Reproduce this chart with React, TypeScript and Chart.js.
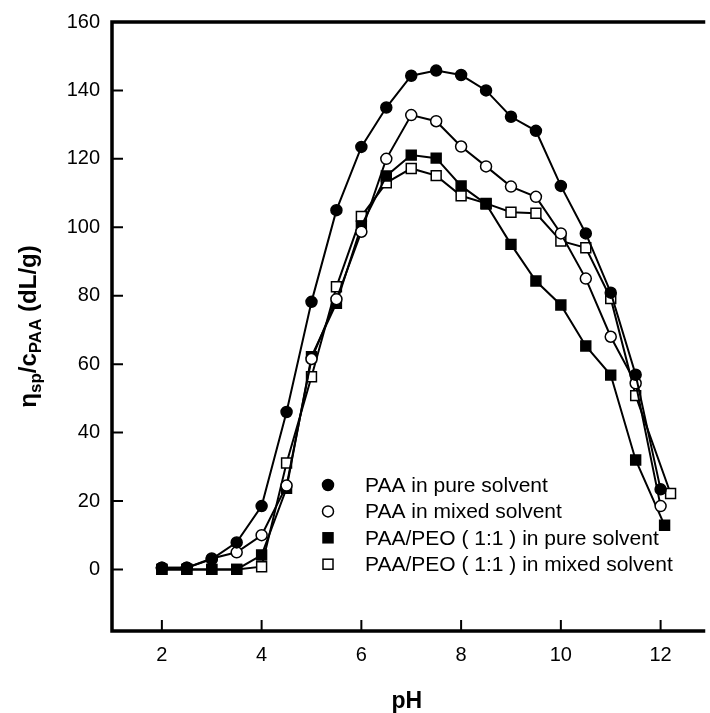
import React, { useEffect, useRef } from "react";
import { Chart, registerables } from "chart.js";

Chart.register(...registerables);

const phA = [2, 2.5, 3, 3.5, 4, 4.5, 5, 5.5, 6, 6.5, 7, 7.5, 8, 8.5, 9, 9.5, 10, 10.5, 11, 11.5, 12];
const paaPure = [0.5, 0.5, 3, 7.9, 18.5, 46, 78.2, 105, 123.5, 135, 144.3, 145.8, 144.5, 140, 132.3, 128.2, 112.1, 98.2, 80.9, 56.9, 23.4];
const paaMixed = [0.5, 0.5, 3.2, 5.0, 10.0, 24.5, 61.5, 79, 98.7, 120, 132.8, 131, 123.6, 117.8, 111.9, 108.9, 98.2, 85.0, 68.0, 54.4, 18.5];

const phB = [2, 2.5, 3, 3.5, 4, 4.5, 5, 5.5, 6, 6.5, 7, 7.5, 8, 8.5, 9, 9.5, 10, 10.5, 11, 11.5, 12.08];
const peoPure = [0, 0, 0, 0, 4.2, 23.7, 62.2, 77.8, 100.4, 115, 121.1, 120.2, 112.1, 106.8, 95.0, 84.3, 77.3, 65.3, 56.8, 32.0, 12.9];

const phC = [2, 2.5, 3, 3.5, 4, 4.5, 5, 5.5, 6, 6.5, 7, 7.5, 8, 8.5, 9, 9.5, 10, 10.5, 11, 11.5, 12.2];
const peoMixed = [0, 0, 0, 0, 0.8, 31.1, 56.3, 82.6, 103.2, 113.0, 117.2, 115.1, 109.2, 107.0, 104.4, 104.1, 96.0, 94.0, 79.2, 50.8, 22.2];

const seriesLabels = [
  "PAA in pure solvent",
  "PAA in mixed solvent",
  "PAA/PEO ( 1:1 ) in pure solvent",
  "PAA/PEO ( 1:1 ) in mixed solvent",
];

const xTicks = [2, 4, 6, 8, 10, 12];
const yTicks = [0, 20, 40, 60, 80, 100, 120, 140, 160];

const FONT = '"Liberation Sans", Arial, Helvetica, sans-serif';

const toPts = (xs: number[], ys: number[]) => xs.map((x, i) => ({ x, y: ys[i] }));

const frameAndExtras = {
  id: "frameAndExtras",
  afterDraw(chart: any) {
    const { ctx, chartArea } = chart;
    const { left, top, right, bottom } = chartArea;
    const xs = chart.scales.x;
    const ys = chart.scales.y;
    ctx.save();
    ctx.strokeStyle = "#000";
    ctx.lineWidth = 3.5;
    ctx.lineCap = "square";
    ctx.beginPath();
    ctx.moveTo(right + 2, top);
    ctx.lineTo(left, top);
    ctx.lineTo(left, bottom);
    ctx.lineTo(right + 2, bottom);
    ctx.stroke();
    ctx.lineWidth = 2;
    ctx.lineCap = "butt";
    ctx.beginPath();
    yTicks.forEach((v) => {
      const py = ys.getPixelForValue(v);
      if (v === 160) return;
      ctx.moveTo(left, py);
      ctx.lineTo(left + 11, py);
    });
    xTicks.forEach((v) => {
      const px = xs.getPixelForValue(v);
      ctx.moveTo(px, bottom);
      ctx.lineTo(px, bottom - 11);
    });
    ctx.stroke();

    // legend
    const lx = 320;
    const ly0 = 477;
    const dy = 26.4;
    ctx.font = `21px ${FONT}`;
    ctx.textBaseline = "middle";
    ctx.textAlign = "left";
    seriesLabels.forEach((label, i) => {
      const y = ly0 + i * dy;
      ctx.lineWidth = 1.5;
      ctx.strokeStyle = "#000";
      if (i < 2) {
        ctx.beginPath();
        ctx.arc(lx, y, 5.5, 0, Math.PI * 2);
        ctx.fillStyle = i === 0 ? "#000" : "#fff";
        ctx.fill();
        ctx.stroke();
      } else {
        ctx.fillStyle = i === 2 ? "#000" : "#fff";
        ctx.fillRect(lx - 5, y - 5, 10, 10);
        ctx.strokeRect(lx - 5, y - 5, 10, 10);
      }
      ctx.fillStyle = "#000";
      ctx.fillText(label, lx + 37, y + 1);
    });

    // y-axis title with subscripts
    const parts: [string, boolean][] = [
      ["\u03B7", false],
      ["sp", true],
      ["/c", false],
      ["PAA", true],
      [" (dL/g)", false],
    ];
    const mainFont = `bold 24px ${FONT}`;
    const subFont = `bold 17px ${FONT}`;
    let total = 0;
    const widths = parts.map(([t, sub]) => {
      ctx.font = sub ? subFont : mainFont;
      const w = ctx.measureText(t).width;
      total += w;
      return w;
    });
    const cy = (top + bottom) / 2;
    ctx.translate(28, cy);
    ctx.rotate(-Math.PI / 2);
    ctx.textBaseline = "alphabetic";
    let x = -total / 2;
    parts.forEach(([t, sub], i) => {
      ctx.font = sub ? subFont : mainFont;
      ctx.fillText(t, x, sub ? 5 : 0);
      x += widths[i];
    });
    ctx.restore();
  },
};

export default function App() {
  const ref = useRef<HTMLCanvasElement | null>(null);
  useEffect(() => {
    document.body.style.overflow = "hidden";
    const canvas = ref.current;
    if (!canvas) return;
    const common = {
      showLine: true,
      borderColor: "#000",
      borderWidth: 2,
      tension: 0,
      pointBorderColor: "#000",
      pointBorderWidth: 1.5,
      pointHoverRadius: 0,
    };
    const chart = new Chart(canvas, {
      type: "scatter",
      data: {
        datasets: [
          { ...common, label: seriesLabels[0], data: toPts(phA, paaPure), pointStyle: "circle", pointRadius: 5.5, pointBackgroundColor: "#000" },
          { ...common, label: seriesLabels[1], data: toPts(phA, paaMixed), pointStyle: "circle", pointRadius: 5.5, pointBackgroundColor: "#fff" },
          { ...common, label: seriesLabels[2], data: toPts(phB, peoPure), pointStyle: "rect", pointRadius: 7, pointBackgroundColor: "#000" },
          { ...common, label: seriesLabels[3], data: toPts(phC, peoMixed), pointStyle: "rect", pointRadius: 7, pointBackgroundColor: "#fff" },
        ],
      },
      options: {
        responsive: false,
        animation: false,
        events: [],
        layout: { padding: { top: 14, right: 0, left: 0, bottom: 0 } },
        plugins: { legend: { display: false }, tooltip: { enabled: false } },
        scales: {
          x: {
            type: "linear",
            min: 1,
            max: 12.82,
            grid: { display: false, drawTicks: false },
            border: { display: false },
            ticks: { color: "#000", font: { family: FONT, size: 20 }, padding: 12, autoSkip: false, maxRotation: 0 },
            afterBuildTicks: (s: any) => {
              s.ticks = xTicks.map((v) => ({ value: v }));
            },
            afterFit: (s: any) => {
              s.height = 82;
              s.paddingLeft = 0;
              s.paddingRight = 0;
            },
            title: {
              display: true,
              text: "pH",
              color: "#000",
              font: { family: FONT, size: 23, weight: "bold", lineHeight: 1 },
              padding: { top: 0, bottom: 0 },
            },
          },
          y: {
            type: "linear",
            min: -18,
            max: 160,
            grid: { display: false, drawTicks: false },
            border: { display: false },
            ticks: { color: "#000", font: { family: FONT, size: 20 }, padding: 12, autoSkip: false },
            afterBuildTicks: (s: any) => {
              s.ticks = yTicks.map((v) => ({ value: v }));
            },
            afterFit: (s: any) => {
              s.width = 104;
              s.paddingTop = 0;
              s.paddingBottom = 0;
            },
          },
        },
      },
      plugins: [frameAndExtras],
    } as any);
    return () => chart.destroy();
  }, []);
  return (
    <div style={{ position: "fixed", left: 8, top: 8, width: 702, height: 705 }}>
      <canvas ref={ref} width={702} height={705} style={{ display: "block" }} />
    </div>
  );
}
